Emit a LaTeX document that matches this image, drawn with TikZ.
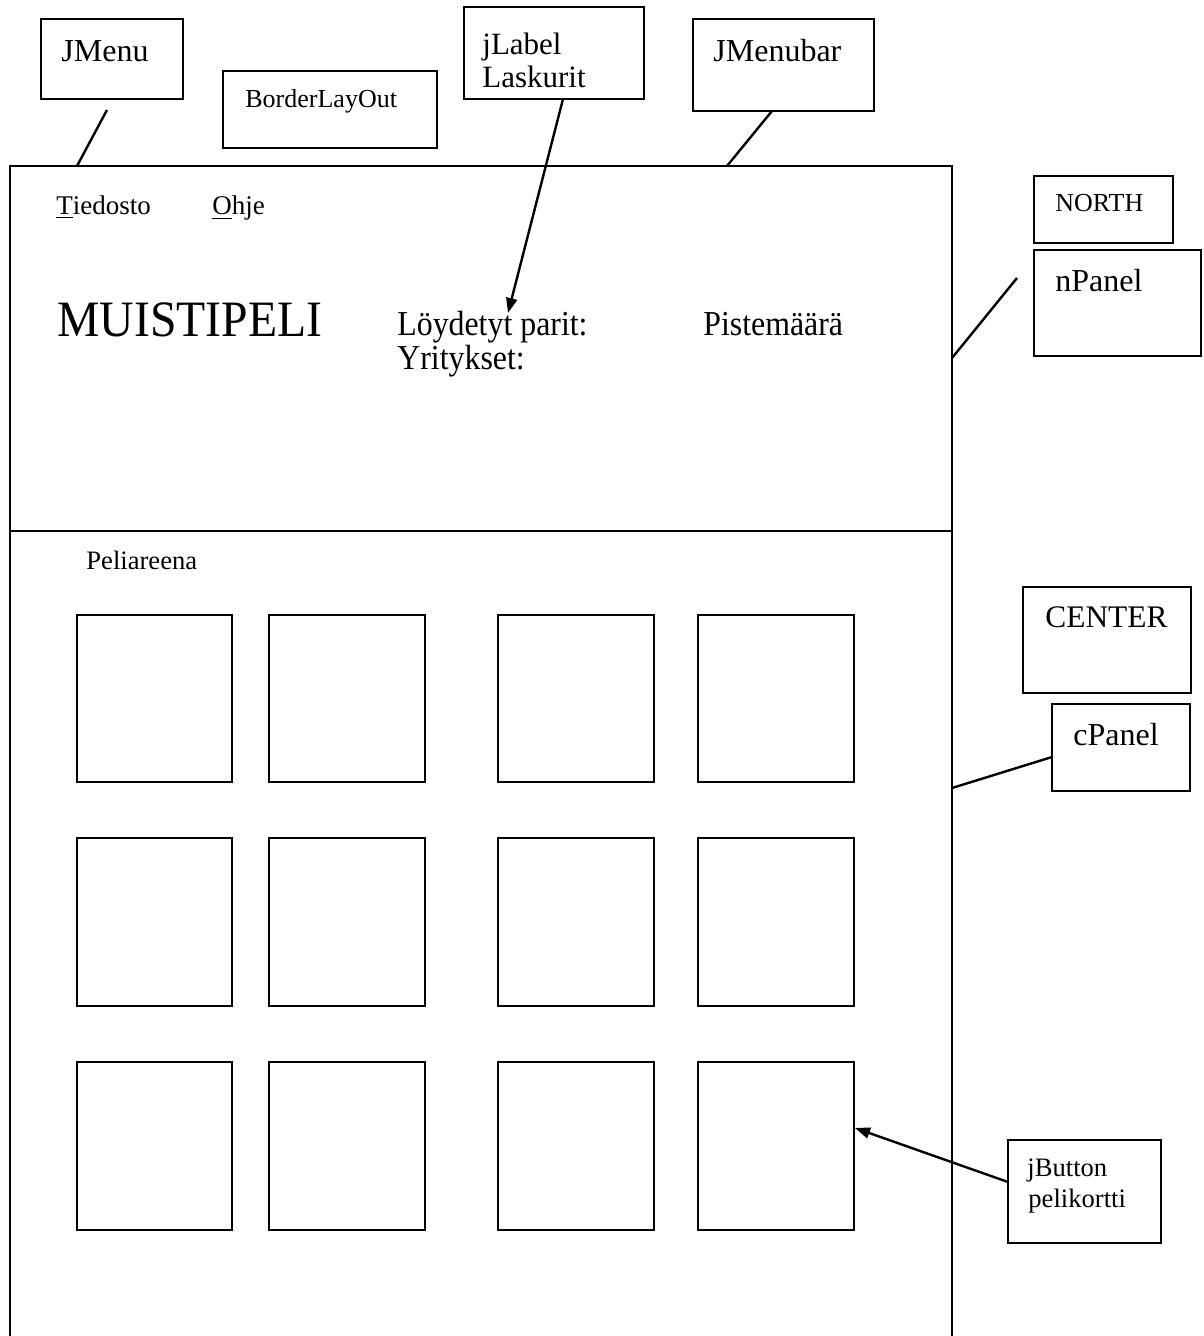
\documentclass[tikz,border=0pt]{standalone}
\usepackage{fontspec}
\setmainfont{Liberation Serif}
\usetikzlibrary{fit,arrows.meta}
\newcommand\fs[1]{\fontsize{#1}{#1}\selectfont}
\begin{document}
\begin{tikzpicture}[x=0.5pt,y=-0.5pt,
  box/.style={draw,line width=1pt,inner sep=0pt},
  txt/.style={anchor=base west,inner sep=0pt},
  conn/.style={line width=1.2pt},
  arr/.style={line width=1.2pt,-{Triangle[length=7.5pt,width=5.5pt]}},
  frame/.style={line width=1.4pt}]
\useasboundingbox (0,0) rectangle (1203,1336);
% main frame
\draw[frame] (10,1340) -- (10,166) -- (952,166) -- (952,1340);
\draw[frame] (10,531) -- (952,531);
% label boxes
\node[box,fit={(41,19) (183,99)}] (jmenu) {};
\node[box,fit={(223,71) (437,148)}] (border) {};
\node[box,fit={(464,7) (644,99)}] (jlabel) {};
\node[box,fit={(693,19) (874,111)}] (jmenubar) {};
\node[box,fit={(1034,176) (1173,243)}] (north) {};
\node[box,fit={(1034,250) (1201,356)}] (npanel) {};
\node[box,fit={(1023,587) (1191,693)}] (center) {};
\node[box,fit={(1052,704) (1190,791)}] (cpanel) {};
\node[box,fit={(1008,1140) (1161,1243)}] (jbutton) {};
% cards
\foreach \r/\ya/\yb in {1/615/782,2/838/1006,3/1062/1230}{
  \foreach \c/\xa/\xb in {1/77/232,2/269/425,3/498/654,4/698/854}{
    \node[box,fit={(\xa,\ya) (\xb,\yb)}] (card\r\c) {};
  }
}
% texts
\node[txt,font=\fs{16}] (tjmenu) at (61,62) {JMenu};
\node[txt,font=\fs{13}] (tborder) at (245,108) {BorderLayOut};
\node[txt,font=\fs{15.5}] (tjlabel) at (482,55) {jLabel};
\node[txt,font=\fs{15.5}] (tlaskurit) at (482,88) {Laskurit};
\node[txt,font=\fs{16}] (tjmenubar) at (713,62) {JMenubar};
\node[txt,font=\fs{13}] (tnorth) at (1055,212) {NORTH};
\node[txt,font=\fs{16}] (tnpanel) at (1055,292) {nPanel};
\node[txt,font=\fs{15.7}] (tcenter) at (1045,627) {CENTER};
\node[txt,font=\fs{16}] (tcpanel) at (1073,745) {cPanel};
\node[txt,font=\fs{13.3}] (tjbutton) at (1027,1176) {jButton};
\node[txt,font=\fs{13.3}] (tpelikortti) at (1028,1207) {pelikortti};
\node[txt,font=\fs{13.5}] (ttiedosto) at (56,215) {\underline{T}iedosto};
\node[txt,font=\fs{13.5}] (tohje) at (212,215) {\underline{O}hje};
\node[txt,font=\fs{13.3}] (tpeli) at (86,569) {Peliareena};
\node[txt,font=\fs{25.5},xscale=0.935] (tmuisti) at (57,337) {MUISTIPELI};
\node[txt,font=\fs{17.5},xscale=0.91] (tloyd) at (397,336) {Löydetyt parit:};
\node[txt,font=\fs{17.5},xscale=0.91] (tyrit) at (397,370) {Yritykset:};
\node[txt,font=\fs{17.5},xscale=0.91] (tpiste) at (703,336) {Pistemäärä};
% connector endpoints
\coordinate (a1) at (107,110);
\coordinate (a2) at (77,166);
\coordinate (b1) at (563,99);
\coordinate (b2) at (508,313);
\coordinate (c1) at (772,111);
\coordinate (c2) at (727,166);
\coordinate (d1) at (1017,278);
\coordinate (d2) at (952,358);
\coordinate (e1) at (1052,757);
\coordinate (e2) at (952,788);
\coordinate (f1) at (1008,1182);
\coordinate (f2) at (855,1128);
\draw[conn] (a1) -- (a2);
\draw[arr] (b1) -- (b2);
\draw[conn] (c1) -- (c2);
\draw[conn] (d1) -- (d2);
\draw[conn] (e1) -- (e2);
\draw[arr] (f1) -- (f2);
\end{tikzpicture}
\end{document}
